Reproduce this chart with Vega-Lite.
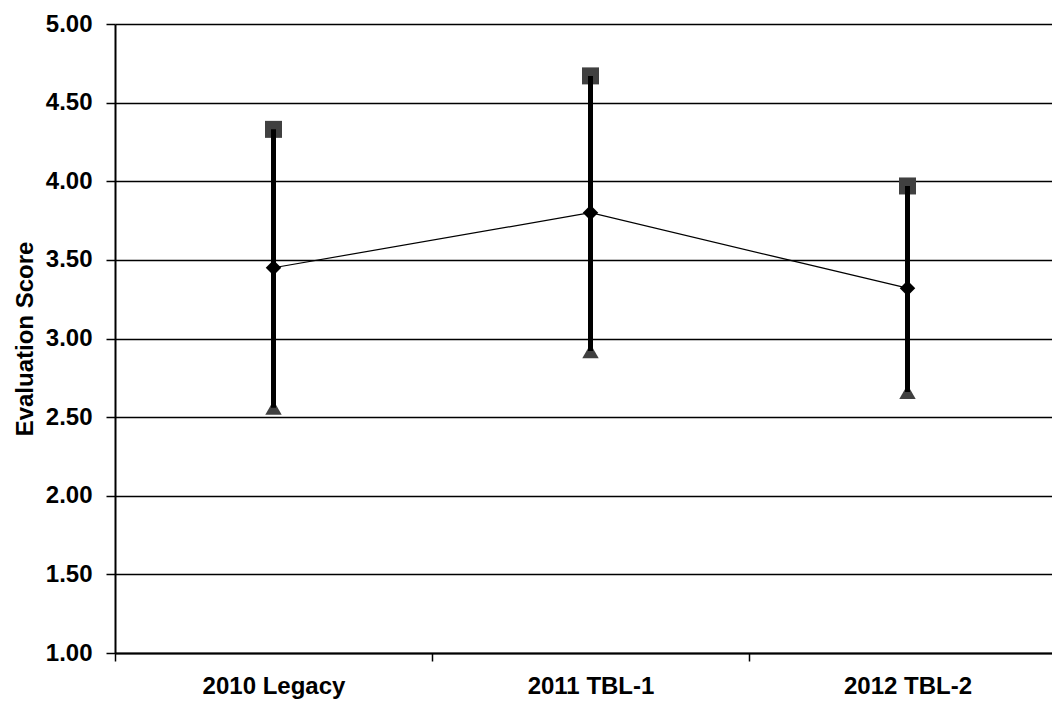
{
  "$schema": "https://vega.github.io/schema/vega-lite/v6.json",
  "width": 937,
  "height": 629,
  "autosize": "none",
  "padding": {"left": 115, "top": 24, "right": 0, "bottom": 53},
  "config": {"view": {"stroke": null}, "font": "Liberation Sans"},
  "data": {
    "values": [
      {"group": "2010 Legacy", "high": 4.33, "mean": 3.45, "low": 2.56},
      {"group": "2011 TBL-1", "high": 4.67, "mean": 3.80, "low": 2.92},
      {"group": "2012 TBL-2", "high": 3.97, "mean": 3.32, "low": 2.66}
    ]
  },
  "encoding": {
    "x": {
      "field": "group",
      "type": "nominal",
      "sort": null,
      "scale": {"type": "band", "range": [0, 951], "paddingInner": 0, "paddingOuter": 0},
      "axis": {
        "title": null,
        "labelAngle": 0,
        "labelFontSize": 24,
        "labelFontWeight": "bold",
        "labelColor": "black",
        "labelPadding": 13,
        "domainColor": "black",
        "domainWidth": 2,
        "tickColor": "black",
        "tickWidth": 1.5,
        "tickSize": 8,
        "tickBand": "extent",
        "grid": false
      }
    }
  },
  "layer": [
    {
      "mark": {"type": "point", "shape": "square", "filled": true, "size": 289, "color": "#404040", "opacity": 1},
      "encoding": {
        "y": {
          "field": "high",
          "type": "quantitative",
          "scale": {"domain": [1, 5], "nice": false, "zero": false},
          "axis": {
            "values": [1, 1.5, 2, 2.5, 3, 3.5, 4, 4.5, 5],
            "format": ".2f",
            "title": "Evaluation Score",
            "titleFontSize": 24,
            "titleFontWeight": "bold",
            "titleColor": "black",
            "titlePadding": 8,
            "labelFontSize": 24,
            "labelFontWeight": "bold",
            "labelColor": "black",
            "labelPadding": 14,
            "domainColor": "black",
            "domainWidth": 2,
            "tickColor": "black",
            "tickWidth": 1.5,
            "tickSize": 9,
            "grid": true,
            "gridColor": "black",
            "gridWidth": 1.5,
            "gridOpacity": 1
          }
        }
      }
    },
    {
      "mark": {"type": "point", "shape": "triangle-up", "filled": true, "size": 270, "color": "#404040", "opacity": 1},
      "encoding": {"y": {"field": "low", "type": "quantitative"}}
    },
    {
      "mark": {"type": "rule", "strokeWidth": 5, "color": "black"},
      "encoding": {
        "y": {"field": "high", "type": "quantitative"},
        "y2": {"field": "low"}
      }
    },
    {
      "mark": {"type": "line", "strokeWidth": 1.2, "color": "black"},
      "encoding": {"y": {"field": "mean", "type": "quantitative"}}
    },
    {
      "mark": {"type": "point", "shape": "diamond", "filled": true, "size": 240, "color": "black", "opacity": 1},
      "encoding": {"y": {"field": "mean", "type": "quantitative"}}
    }
  ]
}
